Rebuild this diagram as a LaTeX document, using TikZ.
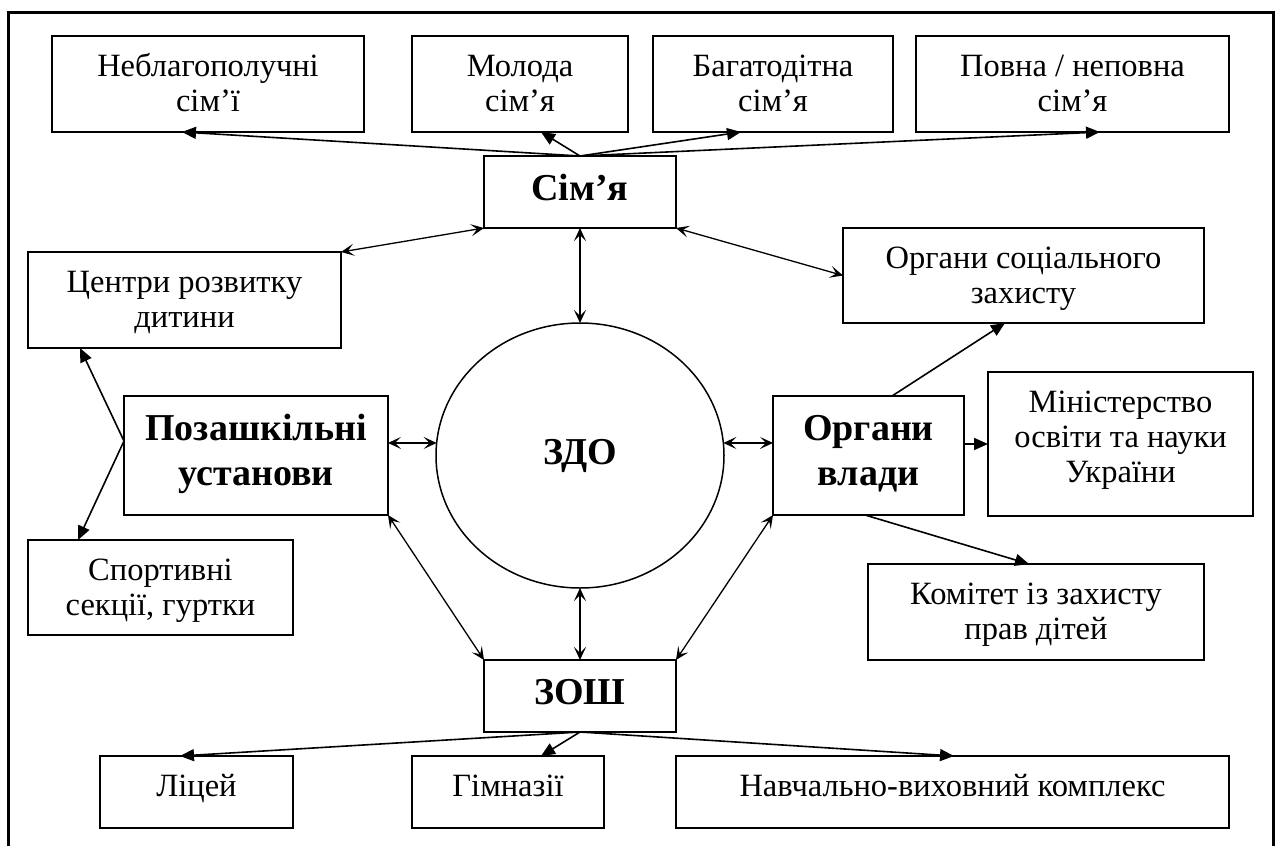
\documentclass[tikz,border=0pt]{standalone}
\usepackage{fontspec}
\setmainfont{Liberation Serif}
\usetikzlibrary{arrows.meta,calc,shapes.geometric}
\newcommand\rtxt[3]{\parbox[c][#2pt][t]{#1pt}{\centering\rule{0pt}{40pt}#3}}
\newcommand\btxt[3]{\parbox[c][#2pt][t]{#1pt}{\centering\rule{0pt}{44pt}#3}}
\begin{document}
\begin{tikzpicture}[x=1pt,y=-1pt,
  box/.style={draw,line width=1.5pt,rectangle,inner sep=0pt,outer sep=0pt,
    font=\fontsize{32.5}{35}\selectfont},
  bbox/.style={box,font=\fontsize{38}{45}\selectfont\bfseries},
  fa/.style={line width=1.6pt,-{Triangle[length=14pt,width=12pt]}},
  da/.style={line width=1.3pt,{Stealth[length=13pt,width=12pt,inset=6pt]}-{Stealth[length=13pt,width=12pt,inset=6pt]}},
  frame/.style={line width=3pt,line join=miter}
]
\useasboundingbox (0,0) rectangle (1278,846);
\draw[frame] (8,846) -- (8,12.7) -- (1273,12.7) -- (1273,846);

% top row
\node[box] (neb) at (208,84) {\rtxt{312}{96}{Неблагополучні\\сім’ї}};
\node[box] (mol) at (520,84) {\rtxt{216}{96}{Молода\\сім’я}};
\node[box] (bag) at (773,84) {\rtxt{240}{96}{Багатодітна\\сім’я}};
\node[box] (pov) at (1072.5,84) {\rtxt{313}{96}{Повна / неповна\\сім’я}};
% family
\node[bbox] (sim) at (580,192) {\btxt{192}{72}{Сім’я}};
% second row
\node[box] (cent) at (184.5,300) {\rtxt{313}{96}{Центри розвитку\\дитини}};
\node[box] (soc) at (1023.5,275.5) {\rtxt{361}{95}{Органи соціального\\захисту}};
% middle row
\node[bbox] (poz) at (256,455.5) {\btxt{264}{119}{Позашкільні\\установи}};
\node[ellipse,draw,line width=1.5pt,inner sep=0pt,outer sep=0pt,minimum width=288pt,minimum height=265pt,
  font=\fontsize{38}{45}\selectfont\bfseries,execute at begin node=\strut] (zdo) at (580,455.5) {ЗДО};
\node[bbox] (vlada) at (868.5,455.5) {\btxt{191}{119}{Органи\\влади}};
\node[box] (min) at (1120.5,444) {\rtxt{265}{144}{Міністерство\\освіти та науки\\України}};
% lower
\node[box] (sport) at (160.5,587.5) {\rtxt{265}{95}{Спортивні\\секції, гуртки}};
\node[box] (kom) at (1036,612) {\rtxt{336}{96}{Комітет із захисту\\прав дітей}};
\node[bbox] (zosh) at (580,696) {\btxt{192}{72}{ЗОШ}};
% bottom row
\node[box] (lic) at (196.5,792) {\rtxt{193}{72}{Ліцей}};
\node[box] (gim) at (508,792) {\rtxt{192}{72}{Гімназії}};
\node[box] (nav) at (952.5,792) {\rtxt{553}{72}{Навчально-виховний комплекс}};

% family -> types
\draw[fa] (sim.north) -- ($(neb.south west)+(130,0)$);
\draw[fa] (sim.north) -- ($(mol.south west)+(129,0)$);
\draw[fa] (sim.north) -- ($(bag.south west)+(88,0)$);
\draw[fa] (sim.north) -- ($(pov.south west)+(184,0)$);

% family links
\draw[da] (sim.south west) -- (cent.north east);
\draw[da] (sim.south) -- (zdo.north);
\draw[da] (sim.south east) -- (soc.west);

% out-of-school
\coordinate (pozv) at ($(poz.west)+(0,-14.5)$);
\draw[fa] (pozv) -- ($(cent.south west)+(52,0)$);
\draw[fa] (pozv) -- ($(sport.north west)+(50,0)$);

% horizontal links
\draw[da] (zdo.175) -- (zdo.175 -| poz.east);
\draw[da] (zdo.5) -- (zdo.5 -| vlada.west);
\coordinate (vle) at ($(vlada.east)+(0,-11.5)$);
\draw[fa] (vle) -- (vle -| min.west);

% authorities
\draw[fa] ($(vlada.north west)+(119,0)$) -- ($(soc.south west)+(162,0)$);
\draw[fa] ($(vlada.south west)+(92,0)$) -- ($(kom.north west)+(161,0)$);

% to school
\draw[da] (poz.south east) -- (zosh.north west);
\draw[da] (vlada.south west) -- (zosh.north east);
\draw[da] (zdo.south) -- (zosh.north);

% school -> types
\draw[fa] (zosh.south) -- ($(lic.north west)+(80,0)$);
\draw[fa] (zosh.south) -- ($(gim.north west)+(129,0)$);
\draw[fa] (zosh.south) -- ($(nav.north west)+(278,0)$);
\end{tikzpicture}
\end{document}
